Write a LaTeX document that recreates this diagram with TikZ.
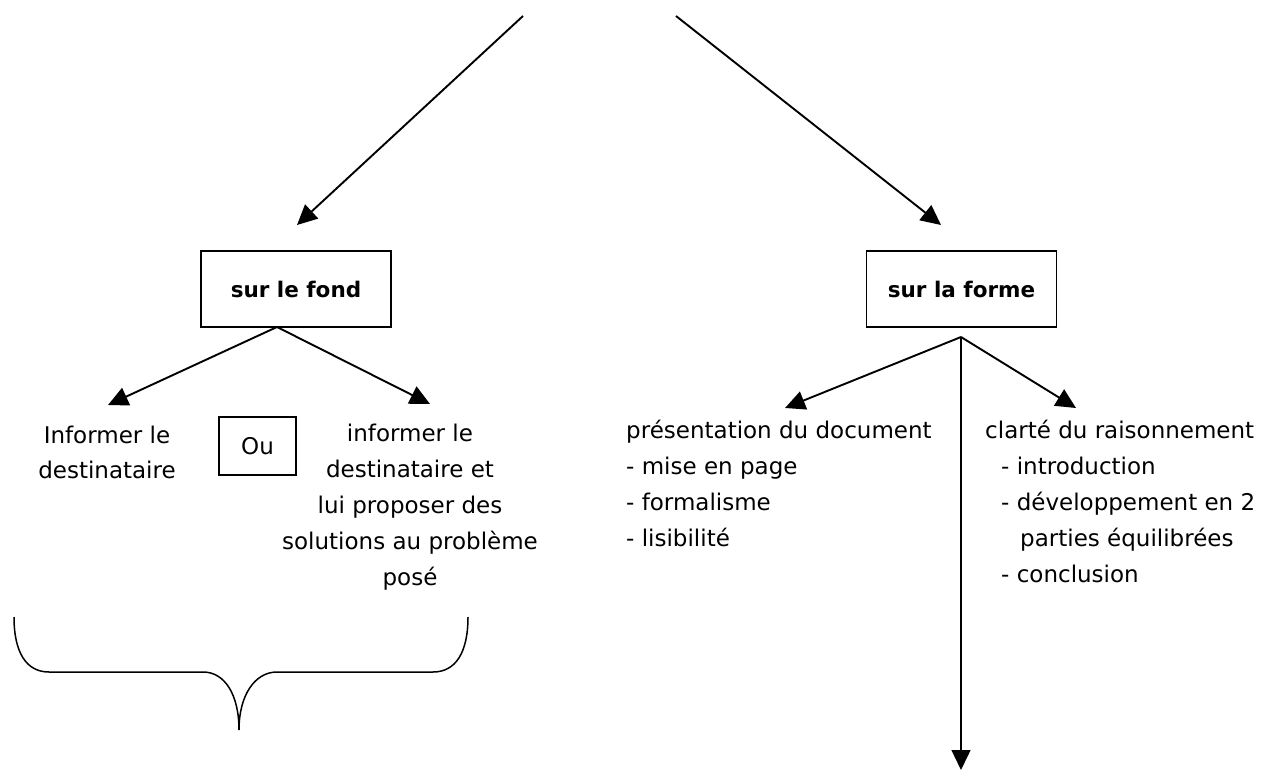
\documentclass[tikz,border=0pt]{standalone}
\usepackage{fontspec}
\setmainfont{DejaVu Sans}
\usetikzlibrary{arrows.meta}
\begin{document}
\begin{tikzpicture}[x=1pt,y=-1pt,
  conn/.style={line width=1.9pt,-{Triangle[length=20pt,width=19pt]}},
  thinconn/.style={line width=1.4pt,-{Triangle[length=20pt,width=19pt]}},
  cbox/.style={draw,line width=1.4pt,minimum width=190pt,minimum height=76pt,inner sep=0pt,font=\bfseries\fontsize{21.5}{24}\selectfont},
  txt/.style={font=\fontsize{23}{36}\selectfont,inner sep=0pt},
  brace/.style={line width=1.5pt}
]
\useasboundingbox (0,0) rectangle (1274,771);
% top free ends
\coordinate (tl) at (523,16);
\coordinate (tr) at (676,16);
\coordinate (fondin) at (297,225);
\coordinate (formein) at (941,225);
% boxes
\node[cbox] (fond) at (296,289) {sur le fond};
\node[cbox] (forme) at (961.5,289) {sur la forme};
\draw[conn] (tl) -- (fondin);
\draw[conn] (tr) -- (formein);
% left branch
\coordinate (fondapex) at (277,327);
\node[txt,align=center,font=\fontsize{23}{35}\selectfont] (inf1) at (107,452) {Informer le\\destinataire};
\node[draw,line width=1.1pt,minimum width=77pt,minimum height=58pt,inner sep=0pt,font=\fontsize{23}{26}\selectfont] (ou) at (257.5,446) {Ou};
\node[txt,align=center] (inf2) at (410,507) {informer le\\destinataire et\\lui proposer des\\solutions au problème\\posé};
\coordinate (inf1in) at (108,405);
\coordinate (inf2in) at (430,404);
\draw[conn] (fondapex) -- (inf1in);
\draw[conn] (fondapex) -- (inf2in);
% right branch
\coordinate (formeapex) at (961,337);
\coordinate (presin) at (785,408);
\coordinate (clarin) at (1076,408);
\coordinate (bottom) at (961,770);
\draw[conn] (formeapex) -- (presin);
\draw[conn] (formeapex) -- (clarin);
\draw[thinconn] (formeapex) -- (bottom);
\node[txt,align=left,anchor=north west] (pres) at (626,420) {présentation du document\\- mise en page\\- formalisme\\- lisibilité};
\node[txt,align=left,anchor=north west] (clar) at (985,420) {clarté du raisonnement\\\hspace*{16pt}- introduction\\\hspace*{16pt}- développement en 2\\\hspace*{35pt}parties équilibrées\\\hspace*{16pt}- conclusion};
% brace
\draw[brace] (14,617) .. controls (14,652) and (26,672) .. (49,672) -- (203,672)
  .. controls (225,672) and (239,695) .. (239,730)
  .. controls (239,695) and (255,672) .. (277,672) -- (433,672)
  .. controls (456,672) and (468,652) .. (468,617);
\end{tikzpicture}
\end{document}
